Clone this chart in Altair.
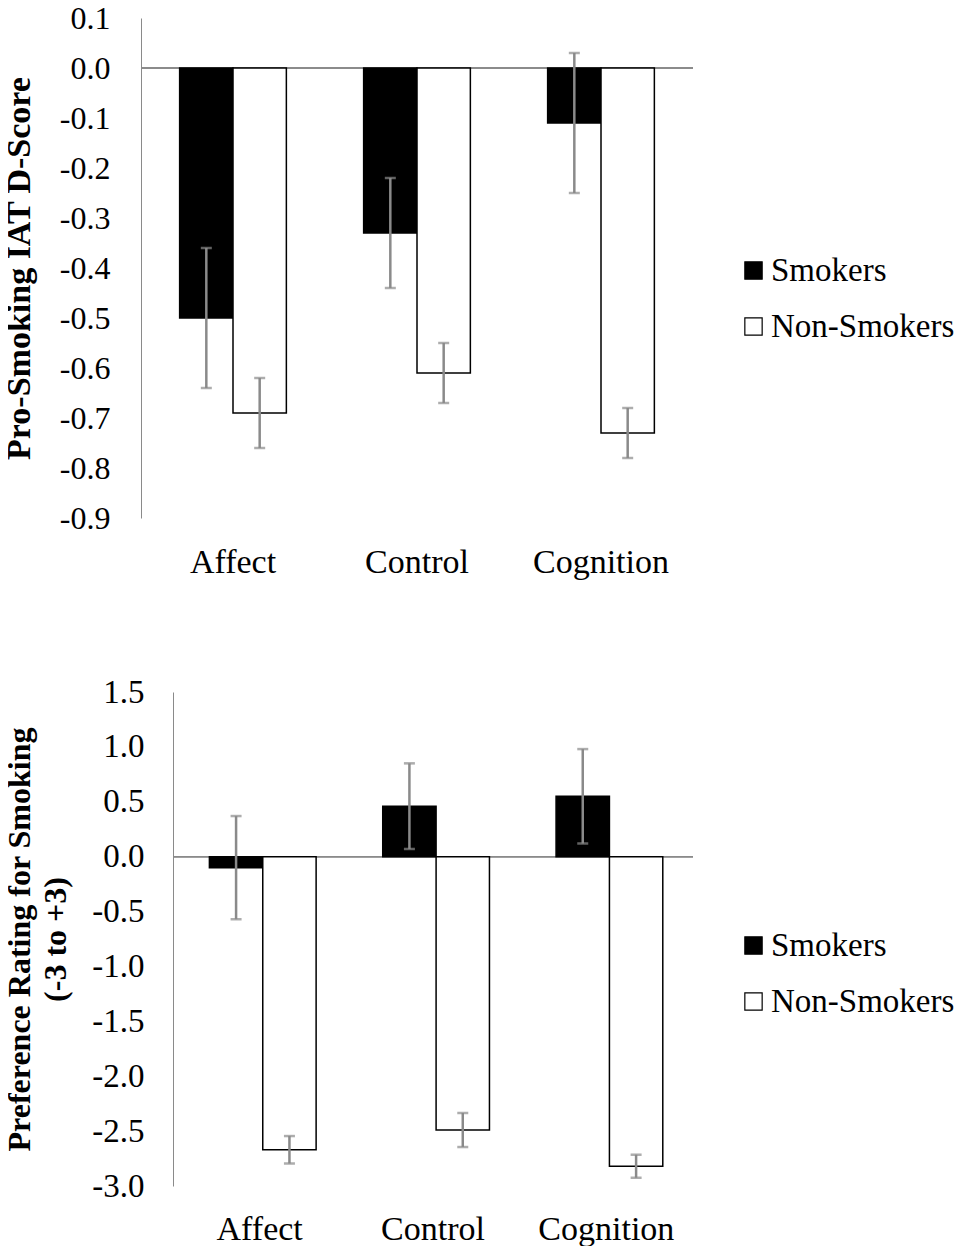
import altair as alt
import pandas as pd

categories = ["Affect", "Control", "Cognition"]
groups = ["Smokers", "Non-Smokers"]

# Panel 1: Pro-Smoking IAT D-Score
iat_smokers = [-0.50, -0.33, -0.11]
iat_smokers_err = [0.14, 0.11, 0.14]
iat_nonsmokers = [-0.69, -0.61, -0.73]
iat_nonsmokers_err = [0.07, 0.06, 0.05]
iat_ticks = [-0.9, -0.8, -0.7, -0.6, -0.5, -0.4, -0.3, -0.2, -0.1, 0.0, 0.1]

# Panel 2: Preference rating (-3 to +3)
pref_smokers = [-0.10, 0.46, 0.55]
pref_smokers_err = [0.47, 0.39, 0.43]
pref_nonsmokers = [-2.67, -2.49, -2.82]
pref_nonsmokers_err = [0.125, 0.155, 0.105]
pref_ticks = [-3.0, -2.5, -2.0, -1.5, -1.0, -0.5, 0.0, 0.5, 1.0, 1.5]

FONT = "Liberation Serif"
GRAY = "#8a8a8a"


def build_df(s, se, n, ne):
    rows = []
    for i, c in enumerate(categories):
        rows.append({"category": c, "group": "Smokers", "value": s[i],
                     "lo": s[i] - se[i], "hi": s[i] + se[i]})
        rows.append({"category": c, "group": "Non-Smokers", "value": n[i],
                     "lo": n[i] - ne[i], "hi": n[i] + ne[i]})
    return pd.DataFrame(rows)


def panel(df, ticks, title, width, height, shift, tick_fs, title_fs,
          label_pad, title_pad, x_label_pad, legend_y):
    lab = "replace(format(datum.value, '.1f'), '\u2212', '-')"
    x = alt.X("category:N", sort=categories,
              scale=alt.Scale(paddingInner=0.42, paddingOuter=0.21, rangeMin=shift),
              axis=alt.Axis(title=None, labelAngle=0, domain=False, ticks=False,
                            labelPadding=x_label_pad, labelFontSize=34, labelFont=FONT,
                            labelColor="black"))
    xo = alt.XOffset("group:N", sort=groups,
                     scale=alt.Scale(paddingInner=0, paddingOuter=0))
    y = alt.Y("value:Q",
              scale=alt.Scale(domain=[ticks[0], ticks[-1]], nice=False, zero=False),
              axis=alt.Axis(values=ticks, labelExpr=lab, grid=False, ticks=False,
                            domainColor=GRAY, domainWidth=1, offset=-shift,
                            labelFontSize=tick_fs, labelFont=FONT, labelColor="black",
                            labelPadding=label_pad, title=title, titleFont=FONT,
                            titleFontSize=title_fs, titleFontWeight="bold",
                            titleColor="black", titlePadding=title_pad,
                            titleLineHeight=36))
    base = alt.Chart(df)
    zero = base.mark_rule(color=GRAY, strokeWidth=1.2).encode(
        y=alt.datum(0), x=alt.value(shift), x2=alt.value("width"))
    bars = base.mark_bar(stroke="black", strokeWidth=1.5).encode(
        x=x, xOffset=xo, y=y,
        y2=alt.datum(0),
        fill=alt.Fill("group:N", sort=groups,
                      scale=alt.Scale(domain=groups, range=["black", "white"]),
                      legend=alt.Legend(title=None, orient="none",
                                        legendX=596, legendY=legend_y,
                                        symbolType="square", symbolSize=300,
                                        symbolStrokeColor="black",
                                        symbolStrokeWidth=1.2,
                                        labelFont=FONT, labelFontSize=33,
                                        labelColor="black", rowPadding=22,
                                        labelOffset=1, labelLimit=400)),
    )
    err = base.mark_rule(color=GRAY, strokeWidth=2.5).encode(
        x=x, xOffset=xo, y=alt.Y("lo:Q"), y2="hi:Q")
    cap_lo = base.mark_tick(color=GRAY, size=11, thickness=2.5).encode(
        x=x, xOffset=xo, y=alt.Y("lo:Q"))
    cap_hi = base.mark_tick(color=GRAY, size=11, thickness=2.5).encode(
        x=x, xOffset=xo, y=alt.Y("hi:Q"))
    return alt.layer(zero, bars, err, cap_lo, cap_hi).properties(
        width=width, height=height)


top = panel(build_df(iat_smokers, iat_smokers_err, iat_nonsmokers, iat_nonsmokers_err),
            iat_ticks, "Pro-Smoking IAT D-Score", 552, 500, 0,
            32, 34, 31, 23, 27, 236)
bottom = panel(build_df(pref_smokers, pref_smokers_err, pref_nonsmokers, pref_nonsmokers_err),
               pref_ticks, ["Preference Rating for Smoking", "(-3 to +3)"], 552, 494, 32,
               33, 32, 29, 19, 26, 237)

chart = alt.vconcat(top, bottom, spacing=97).resolve_scale(
    fill="independent", y="independent", x="independent"
).resolve_legend(fill="independent").properties(
    padding={"top": -6, "left": -6, "right": 0, "bottom": 0}, background="white"
).configure_view(stroke=None)

chart.save("out.html", embed_options={"renderer": "svg", "actions": False})
